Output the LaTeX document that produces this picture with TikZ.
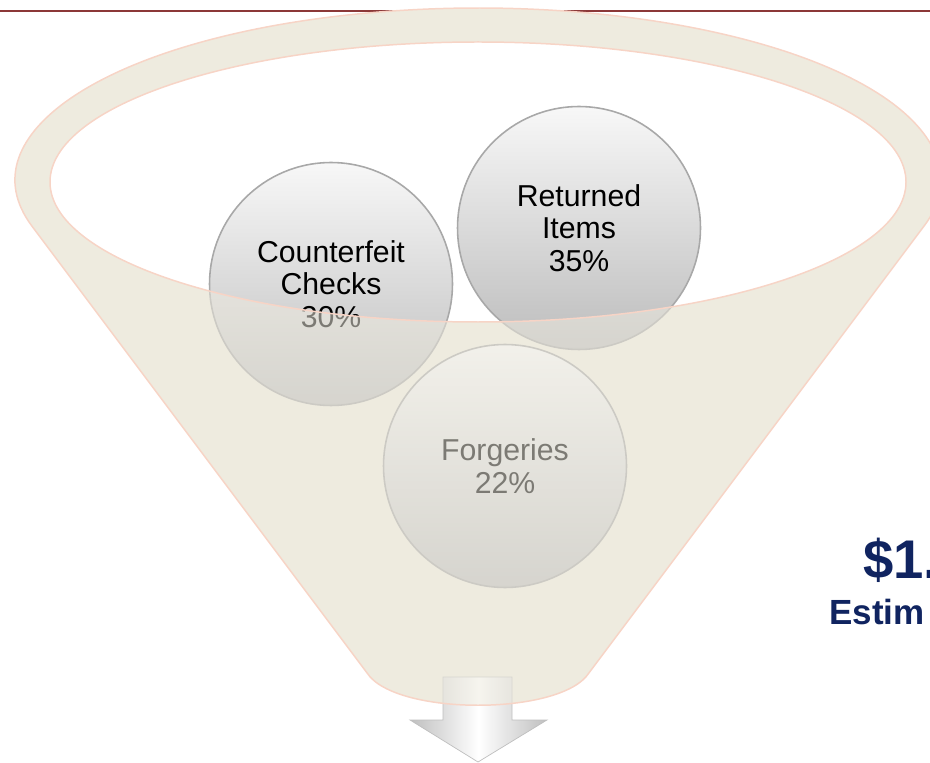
\documentclass[tikz,border=0pt]{standalone}
\usepackage{fontspec}
\setmainfont{Liberation Sans}

\definecolor{rulered}{RGB}{140,56,56}
\definecolor{funnelbeige}{RGB}{238,235,223}
\definecolor{funneledge}{RGB}{247,212,198}
\definecolor{lossnavy}{RGB}{16,36,96}

% funnel: rim plus cone, the mouth cut out (even odd rule)
\newcommand{\funnelpath}{(32,226.2) arc[start angle=164.43, end angle=375.57, x radius=463, y radius=172]
  -- (588.9,673) .. controls (561,716) and (395,716) .. (367.1,673) -- cycle
  (478,182) ellipse [x radius=428, y radius=140]}

\begin{document}
\begin{tikzpicture}[x=0.02cm, y=-0.02cm,
    bubble/.style={circle, minimum size=4.86cm, inner sep=0pt, align=center,
      top color=gray!6, bottom color=gray!52, draw=gray!68, line width=0.9pt,
      font=\fontsize{17.2}{18.6}\selectfont}]
    \useasboundingbox (0,0) rectangle (930,763);
    \clip (0,0) rectangle (930,763);

    % Rule across the top
    \draw[rulered, line width=1.4pt] (0,11) -- (930,11);

    % Funnel body
    \fill[funnelbeige, even odd rule] \funnelpath;

    % Arrow out of the funnel
    \draw[gray!50, line width=0.4pt, left color=gray!50, right color=gray!50, middle color=white]
      (443,677) -- (512,677) -- (512,720) -- (547,720) -- (478,762) -- (410,720) -- (443,720) -- cycle;

    % Loss shares
    \node[bubble] (counterfeit) at (331,284) {Counterfeit\\Checks\\30\%};
    \node[bubble] (returned) at (579,228) {Returned\\Items\\35\%};
    \node[bubble] (forgeries) at (505,466) {Forgeries\\22\%};

    % Front of the funnel over the bubbles
    \filldraw[fill=funnelbeige, fill opacity=0.52, draw=funneledge, line width=0.85pt, even odd rule] \funnelpath;

    % Total
    \node[anchor=base west, inner sep=0pt, text=lossnavy, font=\bfseries\fontsize{31}{36}\selectfont] (total) at (863,578) {\$1.};
    \node[anchor=base west, inner sep=0pt, text=lossnavy, font=\bfseries\fontsize{19.9}{24}\selectfont] (estimate) at (829,624) {Estim};
\end{tikzpicture}
\end{document}
